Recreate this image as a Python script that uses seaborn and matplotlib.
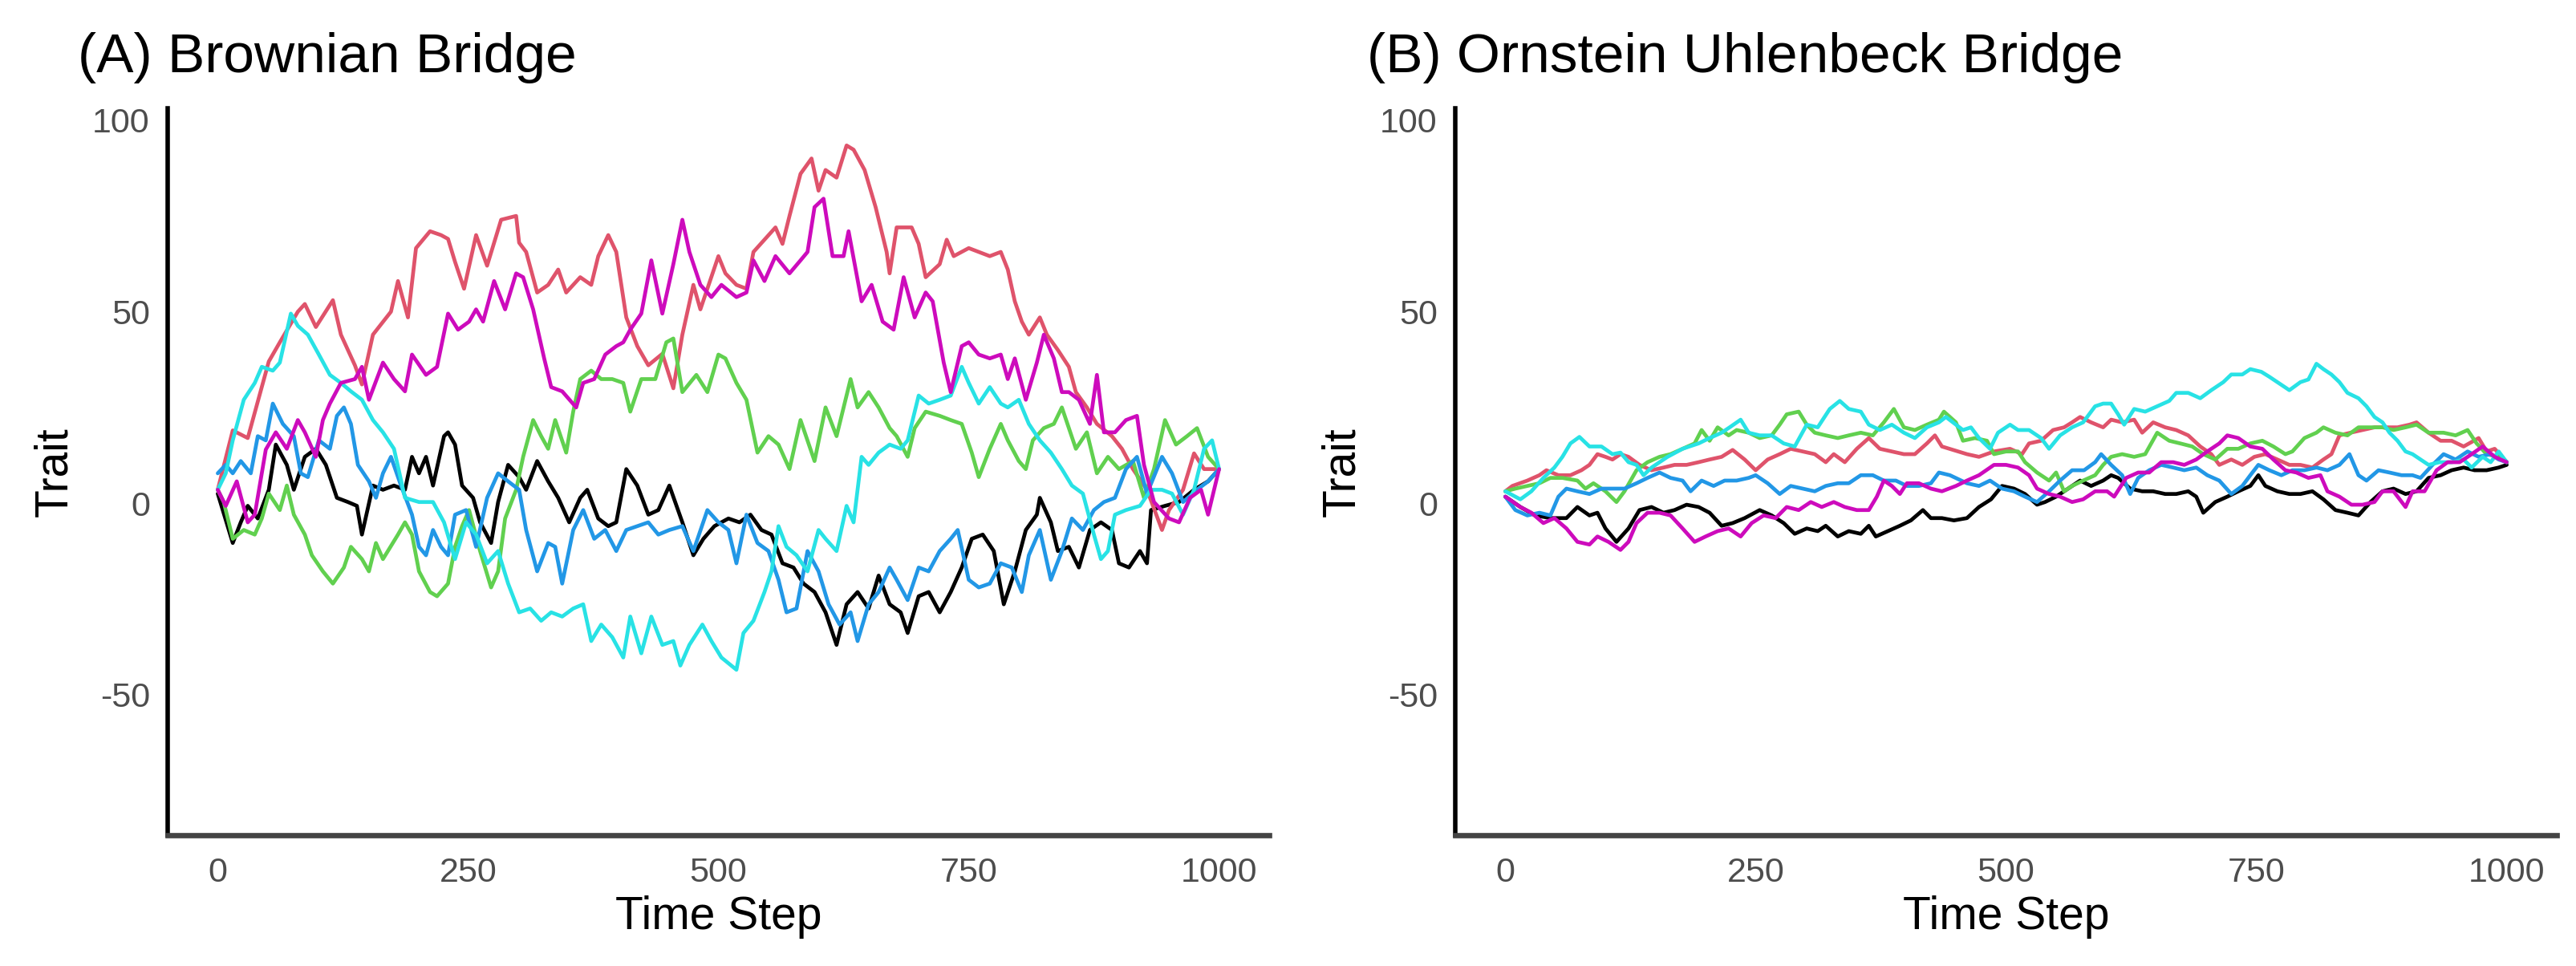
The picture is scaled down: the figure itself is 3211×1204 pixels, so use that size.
import matplotlib
matplotlib.use("Agg")
import matplotlib.pyplot as plt
import seaborn as sns
import pandas as pd

# ---------------- data (time step, trait) ----------------
series_names = ["1", "2", "3", "4", "5", "6"]
series_colors = ["#000000", "#DF536B", "#61D04F", "#2297E6", "#28E2E5", "#CD0BBC"]
x_ticks = [0, 250, 500, 750, 1000]
y_ticks = [-50, 0, 50, 100]
panel_titles = ["(A) Brownian Bridge", "(B) Ornstein Uhlenbeck Bridge"]

# (A) Brownian Bridge
bb_black = [(0,2.5),(5,-1.8),(15,-10.4),(23,-5),(30,-0.7),(40,-4),(51,3.5),(58,15.3),(69,10),(76,3.5),
            (87,12.1),(98,14.2),(108,10),(119,1.4),(130,0.3),(139,-0.7),(144,-8.2),(155,4.6),(165,3.5),
            (176,4.6),(187,3.5),(194,12.1),(201,7.8),(208,12.1),(215,4.6),(226,17.5),(230,18.5),(237,15.3),
            (244,4.6),(255,1.4),(262,-5),(273,-10.4),(280,0.3),(290,10),(301,6.8),(308,3.5),(319,11),
            (330,5.7),(340,1.4),(351,-5),(362,1.4),(369,3.5),(380,-4),(390,-6),(398,-5),(408,8.9),(419,4.6),
            (430,-3),(440,-1.8),(451,4.6),(464,-5),(475,-13.6),(485,-9.3),(496,-6),(510,-4),(521,-5),
            (532,-3),(543,-7),(553,-8.2),(564,-15.7),(575,-16.8),(585,-21),(596,-23.2),(607,-28.5),
            (618,-37),(628,-26.4),(639,-23.2),(650,-27.5),(660,-18.9),(671,-26.4),(682,-28.5),(689,-33.9),
            (700,-24.3),(710,-23.2),(721,-28.5),(732,-23.2),(743,-16.8),(753,-9.3),(764,-8.2),(775,-12.5),
            (785,-26.4),(796,-17.8),(807,-7),(818,-3),(821,1.4),(832,-5),(839,-12.5),(850,-11.4),
            (860,-16.8),(871,-7),(882,-5),(893,-7),(900,-15.7),(910,-16.8),(921,-12.5),(928,-15.7),
            (932,-1.8),(946,-0.7),(960,0.3),(975,3.5),(989,5.7),(1000,8.9)]
bb_red = [(0,3.5),(15,19),(30,17),(51,37),(62,42),(80,50),(87,52),(98,46),(115,53),(123,44),(137,36),
          (144,31),(155,44),(173,50),(180,58),(190,48.5),(198,66.6),(212,71),(223,70),(230,69),(237,63),
          (246,56),(258,70),(269,62),(283,74),(298,75),(301,68),(308,65.6),(319,55),(330,57),(340,61),
          (348,55),(362,59),(373,57),(380,64.5),(390,70),(398,65.6),(408,48.5),(419,41),(430,36),(444,39),
          (455,30),(464,44),(475,57),(482,50.6),(500,64.5),(507,60),(518,57),(528,56),(535,65.6),
          (546,68.8),(557,72),(564,67.7),(571,75),(582,86),(593,90),(600,81.6),(607,87),(618,85),
          (628,93.4),(635,92.3),(646,87),(657,77.3),(668,65.6),(671,60),(678,72),(693,72),(700,67.7),
          (707,59),(721,62.4),(728,68.8),(735,64.5),(750,66.6),(760,65.6),(771,64.5),(782,65.6),(789,61),
          (796,52.7),(803,47.4),(810,44),(821,48.5),(828,44),(839,40),(850,35.6),(857,29),(868,25),
          (878,20.7),(893,17.5),(903,14.2),(914,8.9),(928,3.5),(943,-7),(950,-1.8),(964,3.5),(975,13),
          (985,8.9),(1000,8.9)]
bb_green = [(0,3.5),(6,0.3),(15,-9.3),(26,-7),(37,-8.2),(44,-4),(51,2.5),(62,-1.8),(69,4.6),(76,-3),
            (87,-8.2),(94,-13.6),(105,-17.8),(115,-21),(126,-16.8),(133,-11.4),(144,-14.6),(151,-17.8),
            (158,-10.4),(165,-14.6),(180,-8.2),(187,-5),(194,-8.2),(201,-17.8),(212,-23.2),(219,-24.3),
            (230,-21),(237,-11.4),(244,-6),(251,-1.8),(262,-12.5),(273,-22),(280,-17.8),(287,-4),(298,3.5),
            (305,12.1),(315,21.7),(323,17.5),(330,14.2),(337,21.7),(348,13.2),(355,23.9),(362,32.4),
            (373,34.6),(383,32.4),(394,32.4),(405,31.4),(412,23.9),(423,32.4),(437,32.4),(448,42),(455,43),
            (464,29),(478,33.5),(489,29),(500,38.8),(507,37.8),(518,31.4),(528,27),(539,13.2),(550,17.5),
            (560,15.3),(571,8.9),(582,21.7),(596,11),(607,25),(618,17.5),(632,32.4),(639,25),(650,29),
            (660,25),(671,19.6),(678,17.5),(689,12.1),(696,19.6),(707,23.9),(721,22.8),(732,21.7),
            (743,20.7),(753,13.2),(760,6.8),(771,14.2),(782,20.7),(789,16.4),(800,11),(807,8.9),(814,16.4),
            (825,19.6),(835,20.7),(843,25),(850,19.6),(857,14.2),(868,18.5),(878,7.8),(889,12.1),(900,8.9),
            (914,11),(925,1.4),(935,8.9),(946,21.7),(957,15.3),(968,17.5),(978,19.6),(989,12.1),(1000,8.9)]
bb_blue = [(0,7.8),(8,10),(15,7.8),(23,11),(33,7.8),(40,17.5),(48,16.4),(55,26),(65,20.7),(76,17.5),
           (83,7.8),(90,6.8),(101,16.4),(112,14.2),(119,22.8),(126,25),(133,20.7),(140,10),(151,5.7),
           (158,1.4),(165,7.8),(173,12.1),(183,4.6),(194,-3),(201,-11.4),(208,-13.6),(215,-7),(223,-11.4),
           (230,-13.6),(237,-3),(248,-1.8),(258,-11.4),(269,1.4),(280,7.8),(290,5.7),(301,3.5),(308,-7),
           (319,-17.8),(330,-10.4),(337,-11.4),(344,-21),(355,-7),(365,-1.8),(376,-9.3),(387,-7),
           (398,-12.5),(408,-7),(419,-6),(430,-5),(440,-8.2),(451,-7),(464,-6),(475,-12.5),(489,-1.8),
           (500,-5),(510,-7),(518,-15.7),(528,-3),(539,-10.4),(550,-12.5),(560,-20),(568,-28.5),
           (578,-27.5),(589,-12.5),(600,-17.8),(610,-26.4),(621,-31.7),(632,-28.5),(639,-36),(650,-26.4),
           (660,-23.2),(671,-16.8),(678,-20),(689,-25.3),(700,-16.8),(710,-17.8),(721,-12.5),(732,-9.3),
           (739,-7),(750,-20),(760,-22),(771,-21),(782,-15.7),(793,-16.8),(803,-23.2),(810,-13.6),(821,-7),
           (832,-20),(843,-12.5),(853,-4),(864,-7),(875,-1.8),(885,0.3),(896,1.4),(907,8.9),(918,12.1),
           (928,2.5),(943,12.1),(953,7.8),(964,0.3),(978,3.5),(989,5.7),(1000,8.9)]
bb_cyan = [(0,3.5),(8,7.8),(15,16.4),(26,27),(37,31.4),(44,35.6),(55,34.6),(62,36.7),(73,49.5),(80,46.3),
           (90,44),(101,38.8),(112,33.5),(123,31.4),(133,29.2),(144,27),(155,21.7),(165,18.5),(176,14.2),
           (187,1.4),(201,0.3),(215,0.3),(226,-5),(237,-14.6),(248,-5),(258,-8.2),(269,-15.7),(280,-12.5),
           (290,-21),(301,-28.5),(312,-27.5),(323,-30.7),(333,-28.5),(344,-29.6),(355,-27.5),(365,-26.4),
           (373,-36),(383,-31.7),(394,-35),(405,-40.3),(412,-29.6),(423,-39.2),(433,-29.6),(444,-37),
           (455,-36),(462,-42.4),(471,-37),(484,-31.7),(493,-36),(503,-40.3),(518,-43.5),(525,-33.9),
           (535,-30.7),(546,-23.2),(553,-17.8),(560,-6),(568,-11.4),(578,-13.6),(589,-17.8),(600,-7),
           (607,-9.3),(618,-12.5),(628,-0.7),(635,-5),(643,12.1),(650,10),(660,13.2),(671,15.3),(682,14.2),
           (689,16.4),(700,28.1),(710,26),(721,27),(732,28.1),(743,35.6),(750,31.4),(760,26),(771,30.3),
           (782,26),(789,25),(800,27),(810,20.7),(821,16.4),(832,13.2),(843,8.9),(853,4.6),(864,2.5),
           (875,-8.2),(882,-14.6),(889,-12.5),(896,-3),(907,-1.8),(921,-0.7),(932,3.5),(943,3.5),(953,2.5),
           (964,-3),(975,3.5),(985,14.2),(993,16.4),(1000,8.9)]
bb_magenta = [(0,3.5),(8,-0.7),(19,5.7),(30,-5),(37,-3),(48,14),(58,18.5),(69,14.2),(80,21.7),(87,18.5),
              (98,12.1),(105,21.7),(112,26),(123,31.4),(137,32.4),(144,35.6),(151,27),(165,36.7),(176,32.4),
              (187,29.2),(194,38.8),(208,33.5),(219,35.6),(230,49.5),(240,45.3),(251,47.4),(258,50.6),
              (265,47.4),(276,58),(287,50.6),(298,60),(305,59),(315,50.6),(326,37.8),(333,30.3),(344,29.2),
              (358,25),(365,31.4),(376,32.4),(387,38.8),(398,41),(405,42),(412,45.3),(423,49.5),(433,63.4),
              (444,49.5),(455,62.4),(464,74),(471,65.6),(482,57),(493,53.8),(503,57),(518,53.8),(528,55),
              (535,63.4),(546,58),(557,64.5),(571,60),(582,63.4),(589,65.6),(596,77.3),(605,79.5),
              (614,64.5),(625,64.5),(630,71),(643,52.7),(653,57),(664,47.4),(675,45.3),(685,59),(696,48.5),
              (707,55),(714,52.7),(725,36.7),(732,29),(743,41),(750,42),(760,38.8),(771,37.8),(782,38.8),
              (789,32.4),(796,37.8),(807,27),(818,36.7),(825,44),(835,37.8),(843,29),(850,29),(860,27),
              (871,20.7),(878,33.5),(885,18.5),(896,18.5),(907,21.7),(918,22.8),(925,10),(935,0.3),
              (950,-4),(960,-5),(971,1.4),(982,3.5),(989,-3),(1000,8.9)]

# (B) Ornstein Uhlenbeck Bridge
ou_black = [(0,1.7),(15,-1),(30,-3.2),(45,-3.9),(61,-3.9),(72,-1),(84,-3.2),(92,-2.5),(100,-6.6),
            (111,-10.1),(123,-6.6),(134,-1.8),(146,-1),(158,-2.5),(169,-1.8),(181,-0.4),(193,-1),(204,-2.5),
            (216,-5.9),(227,-5.2),(239,-3.9),(254,-1.8),(266,-3.2),(278,-5.2),(289,-8),(301,-6.6),(312,-7.3),
            (320,-5.9),(332,-8.7),(343,-7.3),(355,-8),(363,-5.9),(370,-8.7),(382,-7.3),(394,-5.9),(405,-4.5),
            (417,-1.8),(425,-3.9),(436,-3.9),(448,-4.5),(461,-3.9),(473,-1),(485,1),(496,4.5),(508,3.8),
            (519,2.4),(531,-0.4),(539,0.3),(550,1.7),(562,3.8),(574,5.9),(585,4.5),(597,5.9),(605,7.3),
            (612,6.6),(624,3.8),(636,3.1),(647,3.1),(659,2.4),(670,2.4),(682,3.1),(690,1.7),(697,-2.5),
            (709,0.3),(721,1.7),(732,3.1),(744,4.5),(752,7.3),(759,4.5),(771,3.1),(783,2.4),(794,2.4),
            (806,3.1),(817,1),(829,-1.8),(841,-2.5),(852,-3.2),(864,0.3),(876,3.1),(887,3.8),(899,2.4),
            (910,3.1),(922,6.6),(934,7.3),(945,8.6),(957,9.3),(968,8.6),(980,8.6),(992,9.3),(1000,10)]
ou_red = [(0,3.1),(7,4.5),(22,5.9),(34,7.3),(41,8.6),(53,7.3),(65,7.3),(76,8.6),(84,10),(92,12.8),(100,12.1),
          (107,11.4),(115,12.8),(123,12.1),(134,10),(146,8.6),(158,9.3),(169,10),(181,10),(193,10.7),
          (204,11.4),(216,12.1),(227,13.9),(239,11.4),(250,8.6),(262,11.4),(274,12.8),(285,14.2),(297,13.5),
          (309,12.8),(320,10.7),(328,12.8),(339,10.7),(351,14.2),(363,17),(374,14.2),(386,13.5),(398,12.8),
          (409,12.8),(421,15.6),(429,17.7),(436,14.8),(461,12.8),(473,12.1),(488,13.5),(504,14.2),
          (516,12.8),(523,15.6),(535,16.3),(547,19.1),(558,19.8),(566,21.1),(574,22.5),(585,21.1),
          (597,19.8),(605,21.8),(616,21.1),(628,21.8),(636,18.4),(647,21.1),(659,19.8),(670,19.1),
          (682,17.7),(694,14.8),(705,12.8),(713,10),(725,11.4),(736,10),(748,12.1),(759,12.8),(771,11.4),
          (783,10),(794,10),(806,9.3),(817,11.4),(825,12.8),(833,17.7),(844,18.4),(856,19.1),(868,19.8),
          (880,19.8),(891,19.8),(903,20.5),(910,21.1),(922,18.4),(934,16.3),(945,16.3),(957,14.8),(972,17),
          (980,13.5),(988,14.2),(1000,10.7)]
ou_green = [(0,3.1),(10,3.8),(22,4.5),(34,5.2),(45,6.6),(57,6.6),(72,5.9),(80,3.8),(88,5.2),(100,3.1),
            (111,0.3),(119,3.1),(131,8.6),(142,10.7),(154,12.1),(165,12.8),(177,14.2),(189,15.6),(196,19.1),
            (204,16.3),(212,19.8),(223,17.7),(231,19.1),(243,18.4),(254,17),(266,17.7),(274,20.5),(281,23.2),
            (293,23.9),(301,20.5),(309,18.4),(320,17.7),(332,17),(343,17.7),(355,18.4),(367,17.7),(378,21.1),
            (388,24.6),(398,19.8),(409,19.1),(421,20.5),(433,21.8),(438,23.9),(450,21.1),(457,16.3),(469,17),
            (481,16.3),(488,12.8),(500,13.5),(512,13.5),(519,10.7),(531,8),(543,5.9),(550,8),(558,3.1),
            (566,4.5),(577,5.9),(589,7.3),(597,10),(605,12.1),(616,12.8),(628,12.1),(639,12.8),(651,18.4),
            (663,16.3),(674,15.6),(686,14.8),(697,12.8),(709,11.4),(721,14.2),(732,14.2),(744,15.6),
            (756,16.3),(767,14.8),(779,12.8),(786,13.5),(798,17),(810,18.4),(817,19.8),(829,18.4),(841,17.7),
            (852,19.8),(864,19.8),(876,19.8),(887,19.1),(899,19.8),(910,20.5),(922,18.4),(937,18.4),
            (949,17.7),(961,19.1),(970,15.6),(980,12.8),(992,12.1),(1000,10.7)]
ou_blue = [(0,1.7),(10,-1.8),(22,-3.2),(34,-2.5),(45,-3.2),(53,1.7),(61,3.8),(72,3.1),(84,2.4),(96,3.8),
           (107,3.8),(119,3.8),(131,5.2),(142,6.6),(154,8),(165,6.6),(177,5.9),(185,3.1),(196,5.9),(208,4.5),
           (219,5.9),(231,5.9),(243,6.6),(250,7.3),(262,5.2),(274,2.4),(285,4.5),(297,3.8),(309,3.1),
           (320,4.5),(332,5.2),(343,5.2),(355,7.3),(367,7.3),(378,5.9),(390,5.9),(401,4.5),(413,4.5),
           (425,5.2),(433,8),(444,7.3),(461,5.2),(473,4.5),(484,5.9),(496,3.8),(508,3.1),(519,1.7),(531,0.3),
           (543,3.1),(554,5.9),(566,8.6),(578,8.6),(589,10.7),(595,12.8),(605,10),(616,7.3),(624,2.4),
           (632,6.6),(643,8.6),(655,10),(667,9.3),(678,8.6),(690,9.3),(701,7.3),(713,5.9),(725,2.4),
           (736,4.5),(744,7.3),(752,10),(763,8.6),(775,7.3),(786,8.6),(798,8.6),(810,9.3),(821,8.6),(833,10),
           (843,12.8),(852,7.3),(860,5.9),(872,8.6),(883,8),(895,7.3),(906,7.3),(914,6.6),(926,10),
           (937,12.8),(949,11.4),(961,13.5),(972,12.1),(984,12.8),(992,11.4),(1000,10.7)]
ou_cyan = [(0,3.1),(15,1),(26,3.1),(38,6.6),(49,9.3),(57,12.1),(65,15.6),(74,17.3),(84,14.8),(96,14.8),
           (107,12.8),(115,13.2),(123,10.7),(131,10),(138,7.3),(146,9.3),(162,12.1),(177,14.2),(193,15.6),
           (204,17),(216,18.4),(224,19.8),(235,21.8),(243,18.4),(254,17.7),(266,17.7),(278,15.6),(289,14.8),
           (301,20.5),(312,19.8),(324,24.6),(334,26.7),(343,24.6),(355,23.9),(363,20.5),(374,19.1),
           (386,20.5),(398,18.4),(409,17),(421,19.8),(433,21.1),(440,22.5),(457,19.1),(465,19.8),(473,17),
           (484,14.2),(492,18.4),(504,20.5),(512,19.1),(523,19.1),(535,17),(543,14.2),(554,17.7),(566,19.8),
           (577,21.1),(589,25.3),(597,26),(605,26),(612,23.2),(618,20.5),(628,24.6),(639,23.9),(651,25.3),
           (663,26.7),(670,28.8),(682,28.8),(694,27.4),(705,29.5),(717,31.6),(725,33.6),(736,33.6),(744,35),
           (755,34.3),(763,33),(775,30.9),(783,29.5),(794,31.6),(802,32.3),(810,36.4),(817,35),(825,33.6),
           (833,31.6),(841,28.8),(852,27.4),(860,25.3),(868,22.5),(876,21.1),(883,18.4),(891,16.3),
           (899,13.5),(906,12.8),(914,11.4),(922,10),(933,10.7),(945,10.7),(957,11.4),(965,9.3),(976,12.1),
           (984,10.7),(992,13.5),(1000,10.7)]
ou_magenta = [(0,1.7),(15,-1),(26,-2.5),(38,-5.2),(49,-3.9),(61,-6.6),(72,-10.1),(84,-10.8),(92,-8.7),
              (103,-10.1),(115,-12.2),(123,-10.1),(131,-5.2),(142,-2.5),(154,-2.5),(165,-3.2),(177,-6.6),
              (189,-10.1),(200,-8.7),(212,-7.3),(223,-6.6),(235,-8.7),(246,-5.2),(258,-3.2),(270,-3.9),
              (281,-1),(293,-1.8),(305,0.3),(316,-1),(328,0.3),(339,-1),(351,-1.8),(363,-1.8),(371,1.7),
              (378,5.9),(386,4.5),(394,2.4),(401,5.2),(413,5.2),(425,3.8),(436,3.1),(450,4.5),(461,5.9),
              (473,7.3),(488,10),(500,10),(512,9.3),(523,7.3),(531,3.8),(543,2.4),(554,1.7),(566,0.3),(577,1),
              (589,3.1),(601,3.1),(608,1.7),(620,6.6),(632,8),(643,8),(655,10.7),(667,10.7),(678,10),
              (690,11.4),(701,13.5),(713,15.6),(721,17.7),(732,17),(744,14.8),(756,14.2),(767,11.4),(779,8.6),
              (790,8),(802,6.6),(814,7.3),(821,3.1),(833,1.7),(845,-0.4),(856,-0.4),(868,0.3),(876,3.1),
              (887,3.1),(899,-1),(906,3.1),(918,3.1),(930,8.6),(941,10.7),(953,10.7),(965,12.8),(976,14.8),
              (988,12.1),(1000,10.7)]

panel_a = [bb_black, bb_red, bb_green, bb_blue, bb_cyan, bb_magenta]
panel_b = [ou_black, ou_red, ou_green, ou_blue, ou_cyan, ou_magenta]


def to_frame(panel):
    rows = []
    for name, pts in zip(series_names, panel):
        for t, v in pts:
            rows.append({"t": t, "v": v, "s": name})
    return pd.DataFrame(rows)


# ---------------- style ----------------
sns.set_style("white")
plt.rcParams["font.family"] = ["Liberation Sans", "DejaVu Sans"]

W, H, DPI = 3211, 1204, 200
fig = plt.figure(figsize=(W / DPI, H / DPI), dpi=DPI)
palette = dict(zip(series_names, series_colors))

axes_left = [209 / W, 1814 / W]
ax_w = 1373 / W
ax_b = 1 - 1041 / H
ax_h = (1041 - 135) / H
title_x = [97 / W, 1704 / W]
title_y = 1 - 90 / H

for i, panel in enumerate([panel_a, panel_b]):
    ax = fig.add_axes([axes_left[i], ax_b, ax_w, ax_h])
    df = to_frame(panel)
    sns.lineplot(data=df, x="t", y="v", hue="s", hue_order=series_names, palette=palette,
                 estimator=None, sort=True, legend=False, linewidth=1.7, ax=ax)
    ax.set_xlim(-50, 1050)
    ax.set_ylim(-86.7, 103.1)
    ax.set_xticks(x_ticks)
    ax.set_xticklabels([str(x) for x in x_ticks])
    ax.set_yticks(y_ticks)
    ax.set_yticklabels([str(y) for y in y_ticks])
    for side in ["top", "right"]:
        ax.spines[side].set_visible(False)
    ax.spines["left"].set_color("black")
    ax.spines["left"].set_linewidth(2.0)
    ax.spines["bottom"].set_color("#444444")
    ax.spines["bottom"].set_linewidth(2.4)
    ax.tick_params(axis="x", direction="out", length=4.6, width=1.6, color="#333333",
                   labelsize=15.5, labelcolor="#4D4D4D", pad=5)
    ax.tick_params(axis="y", direction="out", length=4.0, width=1.8, color="#333333",
                   labelsize=15.5, labelcolor="#4D4D4D", pad=4)
    ax.set_xlabel("Time Step", fontsize=20.5, color="black", labelpad=3)
    ax.set_ylabel("Trait", fontsize=20.5, color="black", labelpad=7)
    ax.grid(False)
    ax.set_facecolor("white")
    fig.text(title_x[i], title_y, panel_titles[i], fontsize=25, color="black",
             ha="left", va="baseline")

fig.savefig("out.png", dpi=DPI, facecolor="white")
